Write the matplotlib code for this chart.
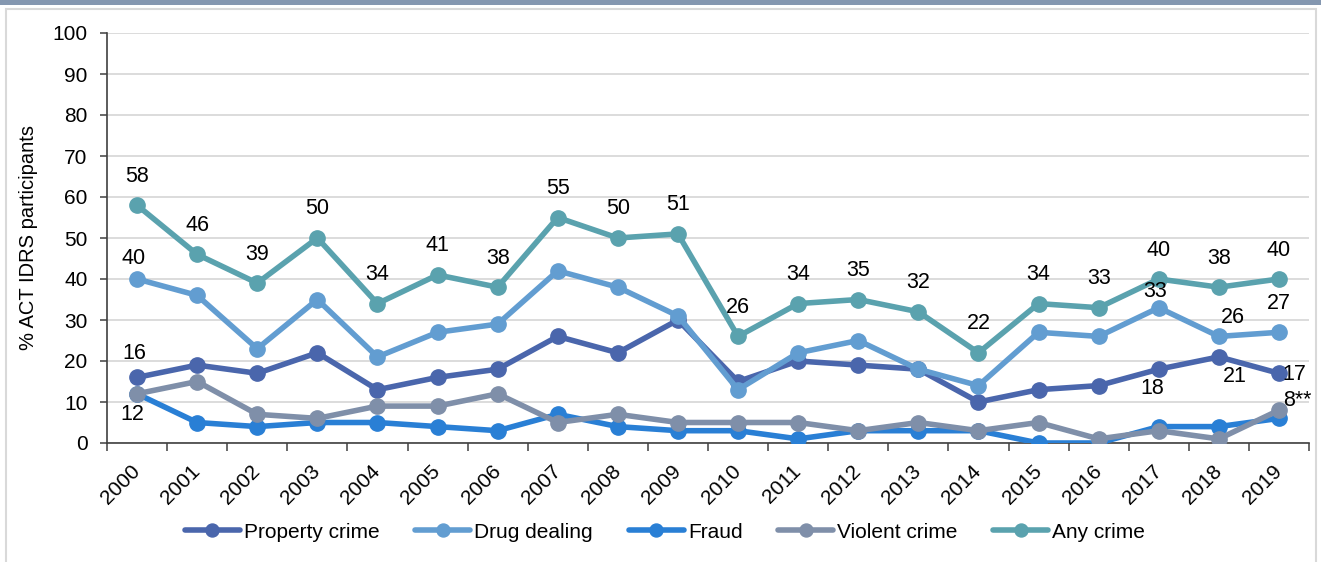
import matplotlib
matplotlib.use('Agg')
import matplotlib.pyplot as plt
from matplotlib.patches import Rectangle
import numpy as np

plt.rcParams['font.family'] = ['Liberation Sans', 'DejaVu Sans']

years = [str(y) for y in range(2000, 2020)]

property_crime = [16, 19, 17, 22, 13, 16, 18, 26, 22, 30, 15, 20, 19, 18, 10, 13, 14, 18, 21, 17]
drug_dealing = [40, 36, 23, 35, 21, 27, 29, 42, 38, 31, 13, 22, 25, 18, 14, 27, 26, 33, 26, 27]
fraud = [12, 5, 4, 5, 5, 4, 3, 7, 4, 3, 3, 1, 3, 3, 3, 0, 0, 4, 4, 6]
violent_crime = [12, 15, 7, 6, 9, 9, 12, 5, 7, 5, 5, 5, 3, 5, 3, 5, 1, 3, 1, 8]
any_crime = [58, 46, 39, 50, 34, 41, 38, 55, 50, 51, 26, 34, 35, 32, 22, 34, 33, 40, 38, 40]

series = [
    ('Property crime', property_crime, '#4a66ac'),
    ('Drug dealing', drug_dealing, '#629dd1'),
    ('Fraud', fraud, '#297fd5'),
    ('Violent crime', violent_crime, '#7f8fa9'),
    ('Any crime', any_crime, '#5aa2ae'),
]

# which points carry a value label: (series, year index, text, offset px, ha)
point_labels = [(4, i, str(v), (0, 29), 'center') for i, v in enumerate(any_crime)]
point_labels += [
    (1, 0, '40', (-3, 20), 'center'),
    (1, 17, '33', (-4, 16), 'center'),
    (1, 18, '26', (14, 19), 'center'),
    (1, 19, '27', (0, 29), 'center'),
    (0, 0, '16', (-3, 24), 'center'),
    (0, 17, '18', (-6, -19), 'center'),
    (0, 18, '21', (16, -20), 'center'),
    (0, 19, '17', (3, -1), 'left'),
    (3, 0, '12', (-5, -21), 'center'),
    (3, 19, '8**', (4, 10), 'left'),
]

fig = plt.figure(figsize=(13.21, 5.62), dpi=100)
ax = fig.add_axes([107 / 1321, 1 - 443 / 562, 1202 / 1321, 410 / 562])

x = np.arange(len(years))
for name, vals, col in series:
    ax.plot(x, vals, color=col, lw=4, marker='o', markersize=11, label=name,
            solid_capstyle='round', zorder=3)

for si, idx, txt, off, ha in point_labels:
    ax.annotate(txt, (x[idx], series[si][1][idx]), xytext=off, textcoords='offset pixels',
                ha=ha, va='center', fontsize=15.5, color='black', zorder=5)

ax.set_xlim(-0.5, len(years) - 0.5)
ax.set_ylim(0, 100)
ax.set_yticks(np.arange(0, 101, 10))
ax.yaxis.grid(True, color='#d9d9d9', lw=1.3)
ax.set_axisbelow(True)

ax.set_xticks(x)
ax.set_xticklabels(years, rotation=45, ha='right', va='center', rotation_mode='anchor', fontsize=15)
ax.set_xticks(np.arange(-0.5, len(years)), minor=True)
ax.tick_params(axis='x', which='major', length=0, pad=18)
ax.tick_params(axis='x', which='minor', length=6, width=1.1, color='#404040')
ax.tick_params(axis='y', length=5, width=1.1, color='#404040', labelsize=15, pad=9)

for s in ['top', 'right']:
    ax.spines[s].set_visible(False)
for s in ['left', 'bottom']:
    ax.spines[s].set_color('#404040')
    ax.spines[s].set_linewidth(1.2)

ax.set_ylabel('% ACT IDRS participants', fontsize=14.5)
ax.yaxis.set_label_coords(-0.057, 0.5)

fig.legend(loc='center', bbox_to_anchor=(665 / 1321, 1 - 532 / 562), ncol=5, frameon=False,
           fontsize=15, handlelength=2.65, handletextpad=0.2, columnspacing=1.7,
           numpoints=1, markerscale=0.85)

# outer frame of the original graphic
fig.add_artist(Rectangle((0, 1 - 4.5 / 562), 1, 4.5 / 562, transform=fig.transFigure,
                         facecolor='#8497b0', edgecolor='none'))
fig.add_artist(Rectangle((6 / 1321, -0.02), 1310 / 1321, 1.02 - 8.5 / 562, transform=fig.transFigure,
                         fill=False, edgecolor='#d9d9d9', lw=1.5))

plt.savefig('out.png', dpi=100)
